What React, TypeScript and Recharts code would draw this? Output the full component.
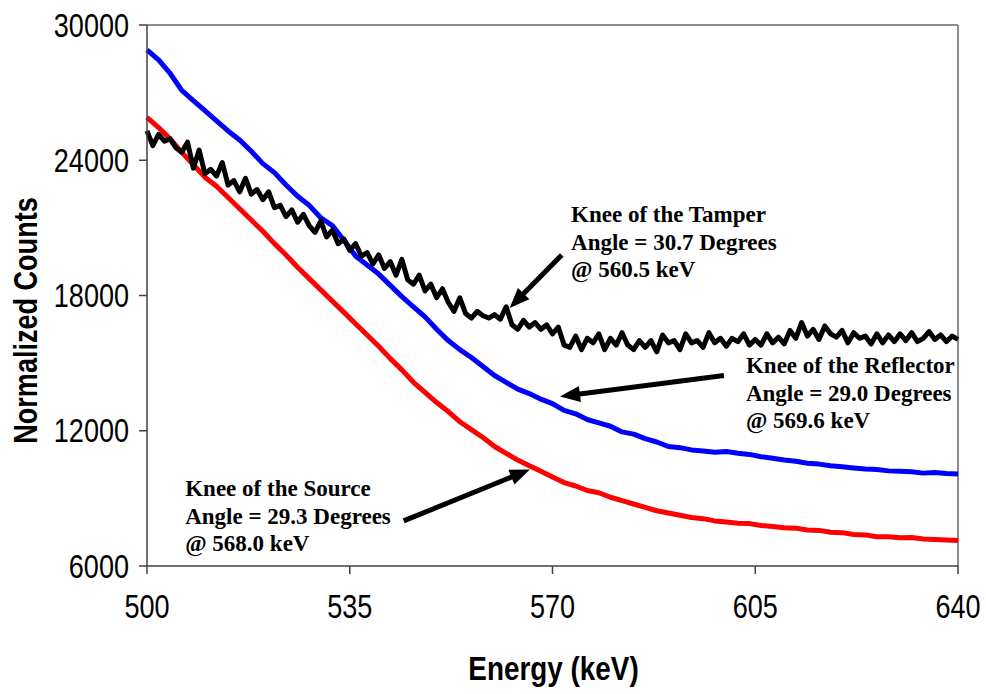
import React from 'react';
import {
  LineChart, Line, XAxis, YAxis, ReferenceLine, ReferenceDot,
} from 'recharts';

// energy grids (keV)
const energyCoarse = [
  500, 502, 504, 506, 508, 510, 512, 514, 516, 518, 520, 522, 524, 526, 528, 530,
  532, 534, 536, 538, 540, 542, 544, 546, 548, 550, 552, 554, 556, 558, 560, 562,
  564, 566, 568, 570, 572, 574, 576, 578, 580, 582, 584, 586, 588, 590, 592, 594,
  596, 598, 600, 602, 604, 606, 608, 610, 612, 614, 616, 618, 620, 622, 624, 626,
  628, 630, 632, 634, 636, 638, 640,
];

const reflectorCounts = [
  28900, 28450, 27850, 27100, 26650, 26200, 25750, 25300, 24900, 24400, 23850, 23450, 22900, 22400, 22000, 21450,
  21100, 20450, 19750, 19350, 18950, 18450, 17950, 17500, 17050, 16500, 16000, 15600, 15250, 14850, 14450, 14150,
  13850, 13650, 13400, 13200, 12900, 12750, 12500, 12350, 12200, 11950, 11850, 11650, 11500, 11300, 11250, 11150,
  11100, 11050, 11080, 11000, 10950, 10850, 10780, 10700, 10650, 10560, 10520, 10450, 10400, 10350, 10300, 10280,
  10220, 10200, 10180, 10120, 10150, 10100, 10080,
];

const sourceCounts = [
  25900, 25450, 24950, 24350, 23800, 23250, 22850, 22350, 21850, 21350, 20850, 20300, 19800, 19250, 18750, 18250,
  17750, 17250, 16750, 16250, 15750, 15200, 14700, 14150, 13700, 13250, 12850, 12400, 12050, 11700, 11300, 11000,
  10700, 10450, 10200, 9950, 9700, 9550, 9350, 9250, 9050, 8900, 8750, 8600, 8450, 8350, 8250, 8150,
  8100, 8000, 7950, 7900, 7880, 7800, 7750, 7700, 7680, 7600, 7580, 7500, 7480, 7400, 7380, 7300,
  7300, 7250, 7260, 7200, 7180, 7150, 7130,
];

const energyFine = [
  500, 501, 502, 503, 504, 505, 506, 507, 508, 509, 510, 511, 512, 513, 514, 515, 516, 517, 518, 519,
  520, 521, 522, 523, 524, 525, 526, 527, 528, 529, 530, 531, 532, 533, 534, 535, 536, 537, 538, 539,
  540, 541, 542, 543, 544, 545, 546, 547, 548, 549, 550, 551, 552, 553, 554, 555, 556, 557, 558, 559,
  560, 561, 562, 563, 564, 565, 566, 567, 568, 569, 570, 571, 572, 573, 574, 575, 576, 577, 578, 579,
  580, 581, 582, 583, 584, 585, 586, 587, 588, 589, 590, 591, 592, 593, 594, 595, 596, 597, 598, 599,
  600, 601, 602, 603, 604, 605, 606, 607, 608, 609, 610, 611, 612, 613, 614, 615, 616, 617, 618, 619,
  620, 621, 622, 623, 624, 625, 626, 627, 628, 629, 630, 631, 632, 633, 634, 635, 636, 637, 638, 639,
  640,
];

const tamperCounts = [
  25300, 24650, 25150, 24850, 24950, 24550, 24350, 24800, 23650, 24450, 23400, 23600, 23300, 23900, 22900, 23100, 22600, 23200, 22500, 22700,
  22250, 22600, 21900, 22000, 21500, 21800, 21250, 21600, 21100, 20800, 21300, 20600, 20900, 20300, 20500, 20000, 20300, 19750, 19900, 19400,
  19800, 19200, 19500, 18900, 19600, 18700, 18500, 18900, 18200, 18500, 17900, 18300, 17700, 17300, 17900, 17200, 17000, 17300, 17100, 17000,
  17150, 16950, 17500, 16700, 16500, 16900, 16600, 16800, 16500, 16700, 16300, 16600, 15800, 15700, 16200, 15600, 16100, 15900, 16300, 15600,
  16100, 15800, 16350, 15800, 15600, 16000, 15700, 16000, 15500, 16250, 15900, 16000, 15600, 16300, 15900, 16000, 15700, 16350, 15900, 16100,
  15750, 16100, 15950, 16300, 15800, 16050, 15800, 16300, 15900, 16150, 15850, 16450, 16100, 16800, 16200, 16500, 16050, 16650, 16300, 16150,
  16450, 15900, 16350, 16100, 16200, 15850, 16300, 15900, 16250, 15950, 16300, 16000, 16350, 15950, 16100, 16400, 16050, 16250, 15950, 16200,
  16050,
];

const xTicks = [500, 535, 570, 605, 640];
const yTicks = [6000, 12000, 18000, 24000, 30000];

// annotation texts and arrow ends, in data units
const notes = [
  { e: 573.2, v: 21260, lines: ['Knee of the Tamper', 'Angle = 30.7 Degrees', '@ 560.5 keV'] },
  { e: 603.4, v: 14560, lines: ['Knee of the Reflector', 'Angle = 29.0 Degrees', '@ 569.6 keV'] },
  { e: 506.6, v: 9100, lines: ['Knee of the Source', 'Angle = 29.3 Degrees', '@ 568.0 keV'] },
];
const arrows = [
  { from: [571.6, 19800], to: [562.6, 17450] },
  { from: [599.6, 14450], to: [571.3, 13520] },
  { from: [544.3, 8000], to: [566.1, 10280] },
];

const reflector = energyCoarse.map((e, i) => ({ e, v: reflectorCounts[i] }));
const source = energyCoarse.map((e, i) => ({ e, v: sourceCounts[i] }));
const tamper = energyFine.map((e, i) => ({ e, v: tamperCounts[i] }));

const SANS = "'Liberation Sans', Arial, sans-serif";
const SERIF = "'Liberation Serif', 'Times New Roman', serif";
const SQUEEZE = 0.82; // narrow look of the original axis font

const XTick = (p: any) => (
  <text transform={`translate(${p.x},${p.y}) scale(${SQUEEZE},1)`} textAnchor="middle" dy="0.71em"
    fontFamily={SANS} fontSize={33} fill="#000">
    {p.payload.value}
  </text>
);

const YTick = (p: any) => (
  <text transform={`translate(${p.x},${p.y}) scale(${SQUEEZE},1)`} textAnchor="end" dy="0.355em"
    fontFamily={SANS} fontSize={33} fill="#000">
    {p.payload.value}
  </text>
);

const arrowShape = (p: any) => {
  const { x1, y1, x2, y2 } = p;
  const dx = x2 - x1;
  const dy = y2 - y1;
  const len = Math.sqrt(dx * dx + dy * dy) || 1;
  const ux = dx / len;
  const uy = dy / len;
  const hl = 20;
  const hw = 8;
  const bx = x2 - ux * hl;
  const by = y2 - uy * hl;
  return (
    <g>
      <line x1={x1} y1={y1} x2={bx + ux * 2} y2={by + uy * 2} stroke="#000" strokeWidth={5} />
      <polygon
        points={`${x2},${y2} ${bx - uy * hw},${by + ux * hw} ${bx + uy * hw},${by - ux * hw}`}
        fill="#000"
      />
    </g>
  );
};

const noteShape = (lines: string[]) => (p: any) => (
  <text x={p.cx} y={p.cy} fontFamily={SERIF} fontWeight="bold" fontSize={23} fill="#000">
    {lines.map((t, i) => (
      <tspan key={i} x={p.cx} dy={i === 0 ? 0 : 27.6}>{t}</tspan>
    ))}
  </text>
);

export default function App() {
  return (
    <div style={{ position: 'absolute', left: 0, top: 0, background: '#fff' }}>
      <LineChart width={986} height={694} margin={{ top: 25, right: 28, bottom: 0, left: 0 }}>
        <XAxis
          dataKey="e"
          type="number"
          domain={[500, 640]}
          ticks={xTicks}
          allowDuplicatedCategory={false}
          height={128}
          tickSize={8}
          tickMargin={21}
          stroke="#404040"
          strokeWidth={1.5}
          tick={<XTick />}
          label={{
            content: (props: any) => {
              const vb = props.viewBox || { x: 147, y: 566, width: 811 };
              const cx = vb.x + vb.width / 2 + 1;
              const cy = vb.y + 114;
              return (
                <text transform={`translate(${cx},${cy}) scale(${SQUEEZE},1)`} textAnchor="middle"
                  fontFamily={SANS} fontWeight="bold" fontSize={34} fill="#000">
                  Energy (keV)
                </text>
              );
            },
          }}
        />
        <YAxis
          type="number"
          domain={[6000, 30000]}
          ticks={yTicks}
          width={147}
          tickSize={8}
          tickMargin={10}
          stroke="#404040"
          strokeWidth={1.5}
          tick={<YTick />}
          label={{
            content: (props: any) => {
              const vb = props.viewBox || { x: 0, y: 25, height: 541 };
              const cx = vb.x + 37;
              const cy = vb.y + vb.height / 2 + 25;
              return (
                <text transform={`translate(${cx},${cy}) rotate(-90) scale(${SQUEEZE},1)`} textAnchor="middle"
                  fontFamily={SANS} fontWeight="bold" fontSize={33} fill="#000">
                  Normalized Counts
                </text>
              );
            },
          }}
        />
        <ReferenceLine y={30000} stroke="#8c8c8c" strokeWidth={2} />
        <ReferenceLine x={640} stroke="#8c8c8c" strokeWidth={2} />

        <Line data={source} dataKey="v" stroke="#ff0000" strokeWidth={5} dot={false}
          isAnimationActive={false} strokeLinejoin="round" />
        <Line data={reflector} dataKey="v" stroke="#0000ff" strokeWidth={5} dot={false}
          isAnimationActive={false} strokeLinejoin="round" />
        <Line data={tamper} dataKey="v" stroke="#000000" strokeWidth={5} dot={false}
          isAnimationActive={false} strokeLinejoin="round" />

        {arrows.map((a, i) => (
          <ReferenceLine key={`arrow-${i}`}
            segment={[{ x: a.from[0], y: a.from[1] }, { x: a.to[0], y: a.to[1] }]}
            shape={arrowShape} />
        ))}
        {notes.map((n, i) => (
          <ReferenceDot key={`note-${i}`} x={n.e} y={n.v} r={1} shape={noteShape(n.lines)} />
        ))}
      </LineChart>
    </div>
  );
}
